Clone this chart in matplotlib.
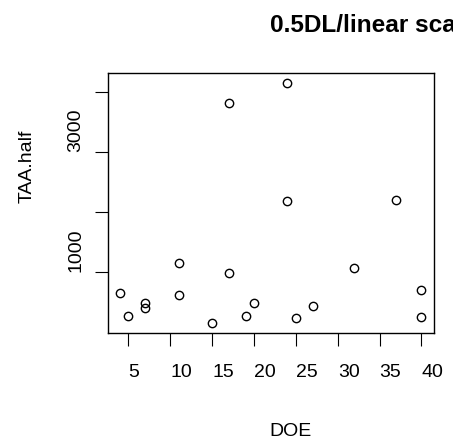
import numpy as np
import matplotlib
matplotlib.use("Agg")
import matplotlib.pyplot as plt

plt.rcParams['font.family'] = ['Liberation Sans', 'DejaVu Sans']

# DOE vs TAA.half
doe = [4, 5, 7, 7, 11, 11, 15, 17, 17, 19, 20, 24, 24, 25, 27, 32, 37, 40, 40]
taa_half = [652, 264, 479, 403, 1149, 619, 148, 3813, 983, 264, 479, 4144,
            2171, 237, 425, 1066, 2199, 706, 247]
x_ticks = [5, 10, 15, 20, 25, 30, 35, 40]
y_ticks = [1000, 2000, 3000, 4000]
y_labels = ['1000', '', '3000', '']

W, H = 453, 440
fig = plt.figure(figsize=(W / 100, H / 100), dpi=100)
ax = fig.add_axes([108 / W, 1 - 332.7 / H, (433.5 - 108) / W, (332.7 - 73.3) / H])

ax.plot(doe, taa_half, 'o', ms=6, mfc='none', mec='black', mew=1.0)

# R-style 4% padding
def pad(v):
    lo, hi = min(v), max(v)
    r = (hi - lo) * 0.04
    return lo - r, hi + r

ax.set_xlim(*pad(doe))
ax.set_ylim(*pad(taa_half))

for s in ax.spines.values():
    s.set_linewidth(1.0)

ax.set_xticks(x_ticks)
ax.set_xticklabels([str(t) for t in x_ticks], ha='left')
ax.set_yticks(y_ticks)
ax.set_yticklabels(y_labels, rotation=90, va='bottom', ha='right')
ax.tick_params(axis='both', direction='out', length=9.4, width=0.8, labelsize=14)
ax.tick_params(axis='x', pad=13)
ax.tick_params(axis='y', pad=7.5)

# title runs off the right edge, as in the original
fig.text(270 / W, 1 - 32.3 / H, '0.5DL/linear scale', fontsize=17.6,
         fontweight='bold', ha='left', va='baseline')
fig.text(269.5 / W, 1 - 435.7 / H, 'DOE', fontsize=14, ha='left', va='baseline')
fig.text(31.7 / W, 1 - 203 / H, 'TAA.half', fontsize=14, rotation=90,
         rotation_mode='anchor', ha='left', va='baseline')

fig.savefig('out.png', dpi=100)
